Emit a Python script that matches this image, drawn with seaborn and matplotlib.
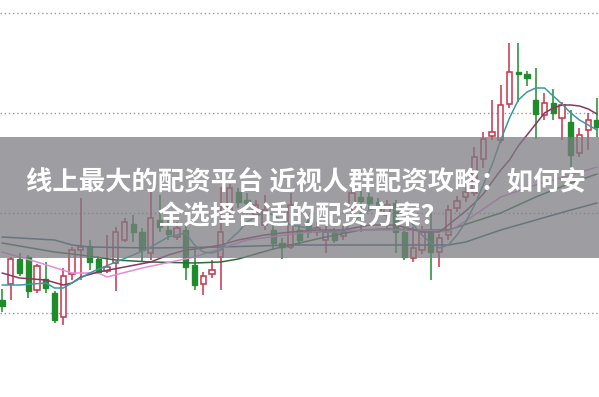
import matplotlib
matplotlib.use("Agg")
import matplotlib.pyplot as plt
import seaborn as sns
import numpy as np
import pandas as pd

# ---- candle data (price units) ----
open_ = [11.3, 12.9, 15.4, 15.6, 12.3, 13.4, 12.0, 9.6, 13.9, 16.3,
         16.7, 15.4, 14.2, 15.0, 17.3, 18.9, 18.1, 16.0, 19.3, 18.3,
         17.6, 18.3, 14.8, 12.9, 13.9, 15.6, 20.1, 22.1, 21.3, 19.8,
         18.8, 18.3, 17.0, 16.6, 18.3, 19.1, 18.1, 17.3, 18.0, 17.7,
         20.6, 21.6, 21.6, 21.1, 19.8, 21.0, 18.1, 15.5, 16.3, 18.3,
         16.1, 17.8, 20.5, 21.6, 22.0, 25.4, 27.7, 27.3, 30.9, 34.1,
         33.9, 31.3, 29.8, 31.0, 29.5, 29.1, 26.0, 28.3, 29.3]
close_ = [10.7, 15.4, 14.0, 12.2, 14.7, 12.5, 9.3, 13.7, 16.3, 16.6,
          15.1, 14.1, 14.6, 18.1, 19.1, 18.1, 16.3, 19.5, 18.6, 17.9,
          18.5, 14.6, 12.8, 13.7, 14.3, 18.1, 22.5, 21.1, 21.0, 20.8,
          20.3, 17.0, 16.6, 20.8, 17.3, 18.1, 18.5, 18.1, 17.3, 18.1,
          22.0, 21.2, 21.0, 20.3, 20.8, 18.1, 15.6, 16.5, 18.1, 16.1,
          17.5, 20.3, 21.2, 22.1, 25.6, 27.4, 28.1, 30.8, 34.1, 33.9,
          33.5, 29.9, 31.0, 30.0, 30.8, 25.8, 27.8, 29.3, 28.6]
high_ = [12.4, 15.6, 16.0, 15.8, 14.9, 15.1, 12.2, 14.5, 16.6, 21.5,
         17.3, 15.7, 17.8, 18.6, 19.5, 19.8, 18.5, 22.3, 21.8, 19.6,
         19.1, 18.9, 16.6, 14.1, 15.3, 22.6, 22.9, 22.5, 22.0, 21.3,
         21.8, 18.8, 17.5, 22.0, 18.8, 19.8, 19.1, 18.8, 18.5, 18.7,
         22.3, 22.3, 22.0, 21.5, 21.3, 21.3, 18.5, 18.6, 18.7, 20.6,
         17.9, 20.8, 21.7, 22.6, 26.6, 28.1, 31.3, 32.8, 37.0, 37.0,
         34.2, 34.5, 32.0, 32.4, 31.1, 30.3, 28.5, 30.0, 31.5]
low_ = [10.1, 11.3, 13.7, 11.5, 12.0, 12.0, 9.0, 8.8, 13.3, 13.3,
        14.3, 13.9, 14.0, 12.2, 17.1, 17.1, 15.1, 15.3, 18.1, 17.3,
        17.3, 13.3, 12.3, 11.8, 13.5, 12.3, 19.8, 20.5, 20.6, 19.3,
        18.3, 16.3, 15.4, 16.4, 16.8, 17.5, 17.7, 16.0, 17.0, 17.3,
        20.1, 18.1, 20.3, 19.8, 18.5, 16.0, 15.3, 15.1, 15.9, 13.3,
        14.6, 17.3, 20.1, 21.1, 21.7, 24.5, 27.3, 27.0, 30.5, 31.1,
        32.7, 27.4, 29.3, 29.3, 27.3, 24.6, 25.6, 26.3, 27.6]

# ---- moving-average lines (index, value) ----
ma5_idx = [0, 2, 5, 6, 7, 9, 10, 13, 15, 17, 19, 21, 22, 23, 24, 25, 26, 27, 28, 30,
           31, 33, 35, 37, 39, 40, 42, 44, 46, 48, 49, 50, 51, 52, 53, 54, 55, 56, 57,
           58, 59, 60, 61, 62, 63, 64, 65, 66, 67, 68]
ma5_val = [12.8, 12.8, 13.0, 12.5, 12.5, 13.5, 14.0, 15.1, 15.8, 16.6, 17.6, 18.0, 16.8,
           16.1, 16.0, 16.3, 17.3, 18.1, 19.1, 20.1, 19.8, 18.8, 18.5, 18.1, 18.1, 19.1,
           20.3, 20.8, 19.8, 17.8, 17.0, 16.5, 16.8, 17.8, 19.1, 20.8, 22.8, 24.8, 27.3,
           29.5, 31.3, 32.1, 32.5, 32.5, 31.7, 30.9, 30.0, 29.3, 28.8, 28.3]
ma10_idx = [0, 2, 5, 7, 8, 9, 11, 14, 17, 19, 21, 23, 25, 27, 30, 33, 36, 39, 42, 45,
            48, 50, 52, 53, 54, 55, 56, 57, 58, 59, 60, 61, 62, 63, 64, 65, 66, 67, 68]
ma10_val = [14.0, 13.5, 13.3, 12.8, 13.0, 13.6, 14.1, 14.6, 15.1, 15.8, 16.3, 16.5, 16.8,
            17.3, 17.8, 18.1, 18.3, 18.3, 18.8, 18.8, 18.1, 18.1, 19.5, 20.2, 21.0, 21.9,
            23.1, 24.3, 25.3, 26.7, 27.8, 28.9, 30.0, 30.5, 30.8, 30.8, 30.7, 30.4, 29.9]
ma20_idx = [0, 4, 8, 11, 12, 16, 22, 28, 35, 42, 48, 51, 54, 57, 61, 65, 68]
ma20_val = [16.1, 15.1, 14.0, 14.0, 13.6, 14.5, 15.6, 17.3, 18.1, 18.3, 18.3, 18.1, 19.8,
            21.6, 22.8, 23.8, 24.6]
ma30_idx = [0, 6, 9, 13, 17, 22, 25, 27, 31, 37, 41, 44, 48, 51, 57, 61, 65, 68]
ma30_val = [17.0, 16.1, 15.8, 15.3, 15.1, 15.0, 15.1, 15.4, 16.4, 17.6, 18.3, 18.4, 18.3,
            18.3, 20.0, 21.6, 23.0, 23.9]
ma60_idx = [0, 6, 8, 10, 17, 25, 33, 45, 51, 53, 57, 61, 65, 68]
ma60_val = [17.6, 17.3, 16.8, 16.6, 16.5, 16.6, 16.8, 16.8, 16.8, 17.1, 18.3, 19.3, 20.3, 21.0]

grid_levels = [10, 20, 30, 40]
title_line1 = "线上最大的配资平台 近视人群配资攻略：如何安"
title_line2 = "全选择合适的配资方案？"

sns.set_theme(style="white")
plt.rcParams['font.family'] = ['Noto Sans CJK SC', 'DejaVu Sans']

fig = plt.figure(figsize=(5.99, 3.97), dpi=100)
ax = fig.add_axes([0, 0, 1, 1])

n = len(open_)
idx = np.arange(n)
o = np.array(open_); c = np.array(close_); h = np.array(high_); l = np.array(low_)
up = c >= o
RED = "#c8324a"
GREEN = "#1f8c2c"

# wicks
for i in range(n):
    col = RED if up[i] else GREEN
    ax.vlines(i, l[i], h[i], color=col, linewidth=1.1, zorder=2)

# bodies
bw = 0.62
ax.bar(idx[up], (c - o)[up], bottom=o[up], width=bw, facecolor="white",
       edgecolor=RED, linewidth=1.1, zorder=3)
ax.bar(idx[~up], (o - c)[~up], bottom=c[~up], width=bw, facecolor=GREEN,
       edgecolor=GREEN, linewidth=1.0, zorder=3)

# moving averages
ma_specs = [(ma60_idx, ma60_val, "#2f5f6e"),
            (ma30_idx, ma30_val, "#2e6b3c"),
            (ma20_idx, ma20_val, "#e58ae0"),
            (ma10_idx, ma10_val, "#8a3560"),
            (ma5_idx, ma5_val, "#3a9aa0")]
for mi, mv, col in ma_specs:
    df = pd.DataFrame({"i": mi, "v": mv})
    sns.lineplot(data=df, x="i", y="v", ax=ax, color=col, linewidth=1.1, zorder=4)

# dotted grid lines
for g in grid_levels:
    ax.axhline(g, color="#9a9a9a", linewidth=1.0, linestyle=(0, (1, 2)), zorder=1)

ax.set_xlim(-0.23, 68.23)
ax.set_ylim(1.6, 41.3)
ax.set_xticks([]); ax.set_yticks([])
ax.set_xlabel(""); ax.set_ylabel("")
for s in ax.spines.values():
    s.set_visible(False)

# grey banner
ax.axhspan(15.5, 27.6, color="#7d7d83", alpha=0.75, zorder=10, linewidth=0)

fig.text(0.51, 0.539, title_line1, ha="center", va="center", color="white",
         fontsize=19, fontweight="bold", zorder=11)
fig.text(0.505, 0.453, title_line2, ha="center", va="center", color="white",
         fontsize=19, fontweight="bold", zorder=11)

fig.savefig("out.png", dpi=100)
